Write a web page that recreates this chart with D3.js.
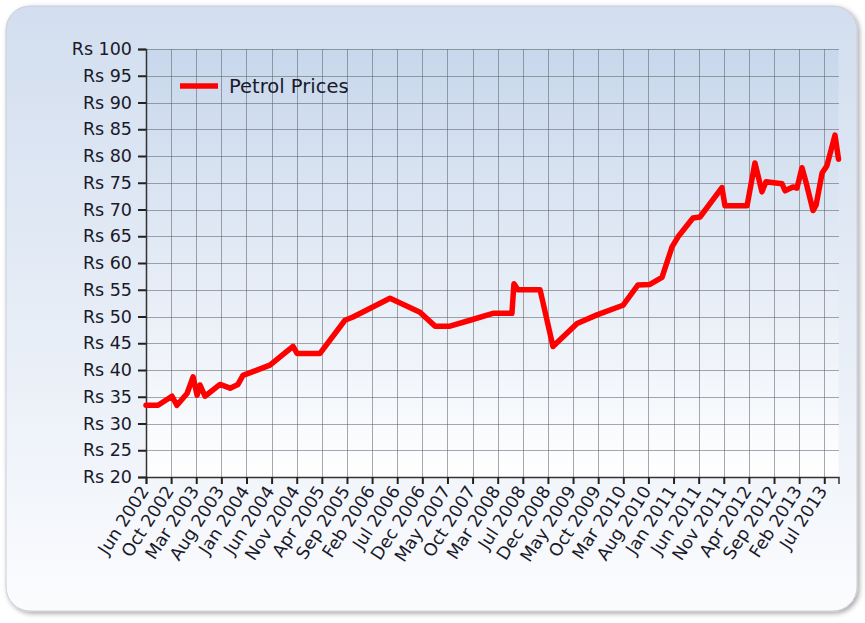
<!DOCTYPE html>
<html>
<head>
<meta charset="utf-8">
<script src="https://cdn.jsdelivr.net/npm/d3@7/dist/d3.min.js"></script>
<style>
  html, body { margin: 0; padding: 0; background: #ffffff; }
  svg { display: block; }
</style>
</head>
<body>
<svg id="chart" width="865" height="623"></svg>
<script>
// ---- Data ----
const seriesName = "Petrol Prices";
const dates = [
  "2002-06-01","2002-08-12","2002-11-03","2002-12-03","2003-02-01","2003-03-09",
  "2003-04-02","2003-04-19","2003-05-19","2003-08-17","2003-10-16","2003-12-02",
  "2004-01-01","2004-06-10","2004-10-26","2004-11-19","2005-04-05","2005-09-01",
  "2005-10-19","2006-05-28","2006-11-23","2007-02-21","2007-05-21","2007-09-18",
  "2008-02-02","2008-05-25","2008-06-06","2008-06-30","2008-11-09","2009-01-25",
  "2009-06-18","2009-10-15","2010-03-19","2010-06-17","2010-08-27","2010-11-07",
  "2011-01-06","2011-02-11","2011-05-11","2011-06-22","2011-10-31","2011-11-18",
  "2012-03-29","2012-05-15","2012-06-26","2012-07-20","2012-10-24","2012-11-11",
  "2012-12-28","2013-01-21","2013-02-20","2013-03-16","2013-04-27","2013-05-15",
  "2013-06-20","2013-07-19","2013-09-05","2013-09-26"
];
const prices = [
  33.4, 33.4, 35.1, 33.4, 35.6, 38.7,
  35.3, 37.2, 35.1, 37.3, 36.6, 37.3,
  39.0, 40.9, 44.4, 43.1, 43.1, 49.3,
  49.9, 53.4, 50.8, 48.2, 48.2, 49.3,
  50.6, 50.6, 56.1, 55.0, 55.0, 44.4,
  48.7, 50.3, 52.1, 55.9, 56.0, 57.3,
  63.0, 64.9, 68.4, 68.6, 74.1, 70.7,
  70.7, 78.7, 73.3, 75.2, 74.8, 73.5,
  74.2, 74.0, 77.8, 75.1, 69.8, 70.8,
  76.8, 78.2, 83.9, 79.4
];
const xTickDates = [
  "2002-06-01","2002-10-29","2003-03-28","2003-08-25","2004-01-22","2004-06-20",
  "2004-11-17","2005-04-16","2005-09-13","2006-02-10","2006-07-10","2006-12-07",
  "2007-05-06","2007-10-03","2008-03-01","2008-07-29","2008-12-26","2009-05-25",
  "2009-10-22","2010-03-21","2010-08-18","2011-01-15","2011-06-14","2011-11-11",
  "2012-04-09","2012-09-06","2013-02-03","2013-07-03"
];
const yTicks = [20,25,30,35,40,45,50,55,60,65,70,75,80,85,90,95,100];

// ---- Setup ----
const parse = d3.utcParse("%Y-%m-%d");
const fmt = d3.utcFormat("%b %Y");
const data = dates.map((d, i) => ({ date: parse(d), value: prices[i] }));
const tickVals = xTickDates.map(parse);

const W = 865, H = 623;
const plot = { left: 146, right: 838.5, top: 49, bottom: 477 };

const svg = d3.select("#chart");
const defs = svg.append("defs");

const cardGrad = defs.append("linearGradient").attr("id", "cardGrad")
  .attr("x1", 0).attr("y1", 0).attr("x2", 0).attr("y2", 1);
cardGrad.append("stop").attr("offset", "0%").attr("stop-color", "#d2deef");
cardGrad.append("stop").attr("offset", "55%").attr("stop-color", "#e8eef7");
cardGrad.append("stop").attr("offset", "100%").attr("stop-color", "#fbfcfe");

const plotGrad = defs.append("linearGradient").attr("id", "plotGrad")
  .attr("x1", 0).attr("y1", 0).attr("x2", 0).attr("y2", 1);
plotGrad.append("stop").attr("offset", "0%").attr("stop-color", "#c8d7ec");
plotGrad.append("stop").attr("offset", "100%").attr("stop-color", "#ffffff");

const shadow = defs.append("filter").attr("id", "shadow")
  .attr("x", "-5%").attr("y", "-5%").attr("width", "110%").attr("height", "110%");
shadow.append("feDropShadow").attr("dx", 2).attr("dy", 2).attr("stdDeviation", 2.5)
  .attr("flood-color", "#000").attr("flood-opacity", 0.35);

// card
svg.append("rect")
  .attr("x", 6).attr("y", 6).attr("width", 851).attr("height", 605)
  .attr("rx", 24).attr("ry", 24)
  .attr("fill", "url(#cardGrad)")
  .attr("stroke", "#c9ced6").attr("stroke-width", 1)
  .attr("filter", "url(#shadow)");

const x = d3.scaleUtc()
  .domain([data[0].date, data[data.length - 1].date])
  .range([plot.left, plot.right]);
const y = d3.scaleLinear().domain([20, 100]).range([plot.bottom, plot.top]);

// plot background
svg.append("rect")
  .attr("x", plot.left).attr("y", plot.top)
  .attr("width", plot.right - plot.left).attr("height", plot.bottom - plot.top)
  .attr("fill", "url(#plotGrad)");

// grid
const grid = svg.append("g").attr("stroke", "#5c6068").attr("stroke-opacity", 0.55)
  .attr("stroke-width", 1).attr("shape-rendering", "crispEdges");
grid.selectAll("line.h").data(yTicks).join("line").attr("class", "h")
  .attr("x1", plot.left).attr("x2", plot.right)
  .attr("y1", d => Math.round(y(d)) + 0.5).attr("y2", d => Math.round(y(d)) + 0.5);
grid.selectAll("line.v").data(tickVals).join("line").attr("class", "v")
  .attr("y1", plot.top).attr("y2", plot.bottom)
  .attr("x1", d => Math.round(x(d)) + 0.5).attr("x2", d => Math.round(x(d)) + 0.5);

// axes
const font = "'DejaVu Sans', sans-serif";
const yAxis = svg.append("g")
  .attr("transform", `translate(${plot.left},0)`)
  .call(d3.axisLeft(y).tickValues(yTicks).tickSize(8).tickPadding(6)
    .tickFormat(d => "Rs " + d));
yAxis.select(".domain").attr("stroke", "#333").attr("stroke-width", 1.5);
yAxis.selectAll(".tick line").attr("stroke", "#222").attr("stroke-width", 2);
yAxis.selectAll(".tick text").attr("font-family", font).attr("font-size", "17.5px")
  .attr("fill", "#1a1a2a");

const xAxis = svg.append("g")
  .attr("transform", `translate(0,${plot.bottom})`)
  .call(d3.axisBottom(x).tickValues(tickVals).tickSize(7).tickFormat(fmt));
xAxis.select(".domain").attr("stroke", "#333").attr("stroke-width", 1.5);
xAxis.selectAll(".tick line").attr("stroke", "#222").attr("stroke-width", 2);
xAxis.selectAll(".tick text")
  .attr("font-family", font).attr("font-size", "17.5px").attr("fill", "#1a1a2a")
  .attr("text-anchor", "end")
  .attr("dy", null)
  .attr("y", 0)
  .attr("transform", "translate(3,14) rotate(-57)");

// line
const line = d3.line().x(d => x(d.date)).y(d => y(d.value));
svg.append("path").datum(data)
  .attr("d", line)
  .attr("fill", "none").attr("stroke", "#ff0000")
  .attr("stroke-width", 5.5).attr("stroke-linejoin", "round").attr("stroke-linecap", "round");

// legend
const lg = svg.append("g").attr("transform", "translate(180,86)");
lg.append("line").attr("x1", 0).attr("x2", 38).attr("y1", 0).attr("y2", 0)
  .attr("stroke", "#ff0000").attr("stroke-width", 5.5);
lg.append("text").attr("x", 49).attr("y", 0).attr("dy", "0.35em")
  .attr("font-family", font).attr("font-size", "19.5px").attr("fill", "#1a1a2a")
  .text(seriesName);
</script>
</body>
</html>
